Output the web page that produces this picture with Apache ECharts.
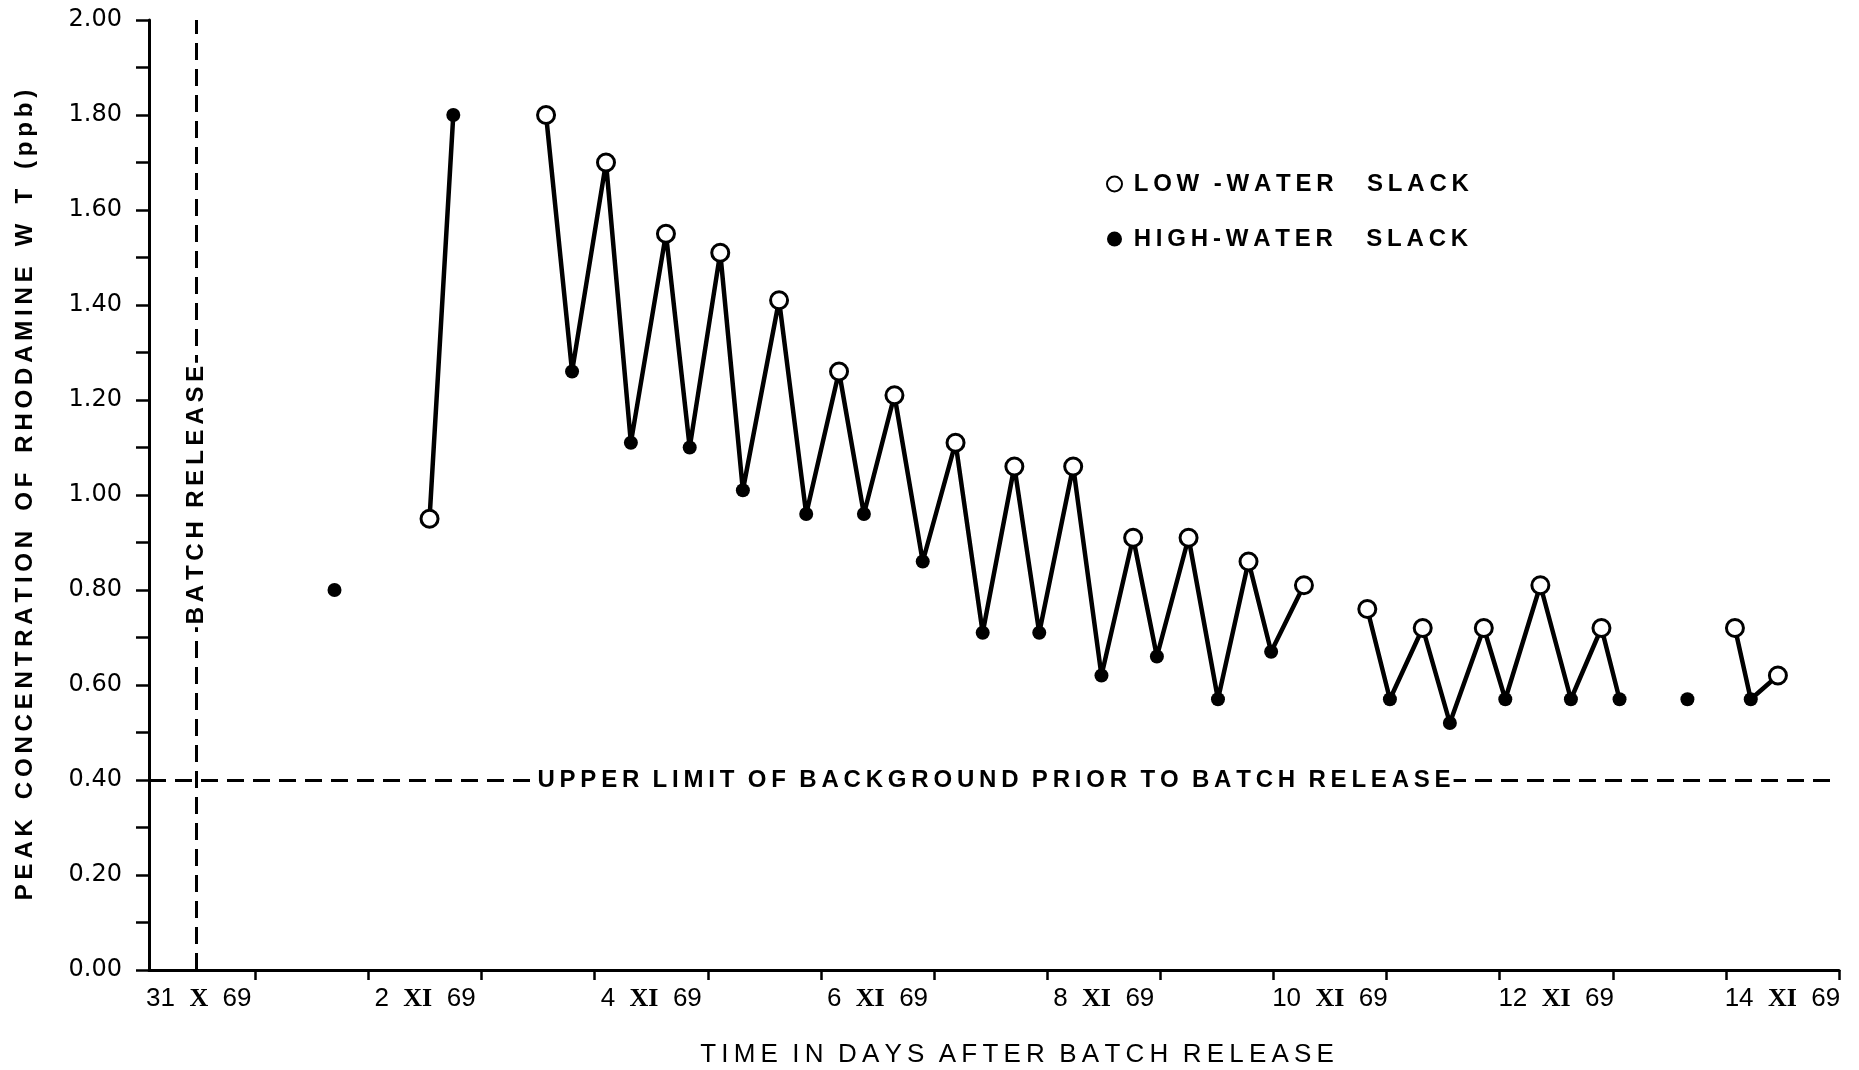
<!DOCTYPE html>
<html>
<head>
<meta charset="utf-8">
<script src="https://cdn.jsdelivr.net/npm/echarts@6/dist/echarts.min.js"></script>
<style>
    html, body { margin: 0; padding: 0; background: #fff; }
    #main { width: 1859px; height: 1070px; }
</style>
</head>
<body>
<div id="main"></div>
<script>
// days counted from 31 Oct 1969 00:00
var lowDays  = [2.54, 3.57, 4.10, 4.63, 5.11, 5.63, 6.16, 6.65, 7.19, 7.71, 8.23, 8.76, 9.25, 9.78, 10.27, 10.83, 11.32, 11.86, 12.36, 12.90, 14.08, 14.46];
var lowPpb   = [0.95, 1.80, 1.70, 1.55, 1.51, 1.41, 1.26, 1.21, 1.11, 1.06, 1.06, 0.91, 0.91, 0.86, 0.81, 0.76, 0.72, 0.72, 0.81, 0.72, 0.72, 0.62];
var highDays = [1.70, 2.75, 3.80, 4.32, 4.84, 5.31, 5.87, 6.38, 6.90, 7.43, 7.93, 8.48, 8.97, 9.51, 9.98, 11.03, 11.56, 12.05, 12.63, 13.06, 13.66, 14.22];
var highPpb  = [0.80, 1.80, 1.26, 1.11, 1.10, 1.01, 0.96, 0.96, 0.86, 0.71, 0.71, 0.62, 0.66, 0.57, 0.67, 0.57, 0.52, 0.57, 0.57, 0.57, 0.57, 0.57];

// stretches of time where the samples are joined by a line
var lineRuns = [[2.5, 2.8], [3.5, 10.3], [10.8, 13.1], [14.0, 14.5]];

var dayTicks = [1, 2, 3, 4, 5, 6, 7, 8, 9, 10, 11, 12, 13, 14, 15];
var dateLabelDays = [0.5, 2.5, 4.5, 6.5, 8.5, 10.5, 12.5, 14.5];
var dateDays = ['31', '2', '4', '6', '8', '10', '12', '14'];
var dateMonths = ['X', 'XI', 'XI', 'XI', 'XI', 'XI', 'XI', 'XI'];

var releaseDay = 0.48;
var backgroundLimit = 0.40;

var LOW_NAME = 'LOW\u2009-WATER     SLACK';
var HIGH_NAME = 'HIGH-WATER     SLACK';

function spaced(str, gap) {
    return str.split(' ').map(function (w) {
        return w.split('').join('\u2009');
    }).join(gap);
}

function main() {
    var myChart = echarts.init(document.getElementById('main'));

    var lowData = lowDays.map(function (d, i) { return [d, lowPpb[i]]; });
    var highData = highDays.map(function (d, i) { return [d, highPpb[i]]; });
    var allPts = lowData.concat(highData).sort(function (a, b) { return a[0] - b[0]; });

    var lineData = [];
    lineRuns.forEach(function (r) {
        allPts.forEach(function (p) {
            if (p[0] >= r[0] && p[0] <= r[1]) lineData.push(p);
        });
        lineData.push('-');
    });

    var textFont = { fontFamily: 'Liberation Sans', fontWeight: 'bold', fontSize: 24, color: '#000' };

    var option = {
        backgroundColor: '#fff',
        animation: false,
        grid: { left: 149, right: 20, top: 20, bottom: 100, outerBoundsMode: 'none' },
        legend: {
            orient: 'vertical',
            left: 1101,
            top: 167,
            itemGap: 31,
            itemWidth: 15,
            itemHeight: 15,
            selectedMode: false,
            formatter: function (name) { return ' ' + spaced(name, ' '); },
            textStyle: textFont,
            data: [LOW_NAME, HIGH_NAME]
        },
        xAxis: {
            type: 'value',
            min: 0.06,
            max: 15,
            name: spaced('TIME IN DAYS AFTER BATCH RELEASE', '  '),
            nameLocation: 'middle',
            nameGap: 72,
            nameTextStyle: {
                fontFamily: 'Liberation Sans',
                fontSize: 26,
                color: '#000',
                padding: [0, 0, 0, 46]
            },
            splitLine: { show: false },
            axisLine: { lineStyle: { color: '#000', width: 3 } },
            axisTick: {
                customValues: dayTicks,
                length: 10,
                lineStyle: { color: '#000', width: 2.5 }
            },
            axisLabel: {
                customValues: dateLabelDays,
                margin: 16,
                fontFamily: 'Liberation Sans',
                fontSize: 26,
                color: '#000',
                formatter: function (v) {
                    var i = dateLabelDays.indexOf(v);
                    if (i < 0) return '';
                    return '{n|' + dateDays[i] + '}  {r|' + dateMonths[i] + '}  {n|69}';
                },
                rich: {
                    n: { fontFamily: 'Liberation Sans', fontSize: 26, color: '#000' },
                    r: { fontFamily: 'Liberation Serif', fontWeight: 'bold', fontSize: 26, color: '#000' }
                }
            }
        },
        yAxis: {
            type: 'value',
            min: 0,
            max: 2.0,
            interval: 0.1,
            name: spaced('PEAK CONCENTRATION OF RHODAMINE W T (ppb)', '   '),
            nameLocation: 'middle',
            nameGap: 112,
            nameTextStyle: textFont,
            splitLine: { show: false },
            axisLine: { lineStyle: { color: '#000', width: 3 } },
            axisTick: { length: 13, lineStyle: { color: '#000', width: 2.5 } },
            axisLabel: {
                margin: 27,
                fontFamily: 'DejaVu Sans',
                fontSize: 24,
                color: '#000',
                formatter: function (v) {
                    return Math.round(v * 10) % 2 === 0 ? v.toFixed(2) : '';
                }
            }
        },
        series: [
            {
                type: 'line',
                data: lineData,
                connectNulls: false,
                symbol: 'none',
                silent: true,
                z: 2,
                lineStyle: { color: '#000', width: 4.5 },
                markLine: {
                    silent: true,
                    symbol: ['none', 'none'],
                    lineStyle: { color: '#000', width: 3, type: [17, 9] },
                    label: {
                        show: true,
                        position: 'insideMiddle',
                        backgroundColor: '#fff',
                        padding: [2, 3],
                        fontFamily: 'Liberation Sans',
                        fontWeight: 'bold',
                        fontSize: 24,
                        color: '#000'
                    },
                    data: [
                        {
                            xAxis: releaseDay,
                            label: { formatter: spaced('BATCH RELEASE', '  ') }
                        },
                        {
                            yAxis: backgroundLimit,
                            label: { formatter: spaced('UPPER LIMIT OF BACKGROUND PRIOR TO BATCH RELEASE', '  ') }
                        }
                    ]
                }
            },
            {
                name: HIGH_NAME,
                type: 'scatter',
                data: highData,
                symbol: 'circle',
                symbolSize: 14,
                z: 3,
                itemStyle: { color: '#000', opacity: 1 }
            },
            {
                name: LOW_NAME,
                type: 'scatter',
                data: lowData,
                symbol: 'circle',
                symbolSize: 17,
                z: 4,
                itemStyle: { color: '#fff', borderColor: '#000', borderWidth: 3, opacity: 1 }
            }
        ]
    };

    myChart.setOption(option);
}

main();
</script>
</body>
</html>
